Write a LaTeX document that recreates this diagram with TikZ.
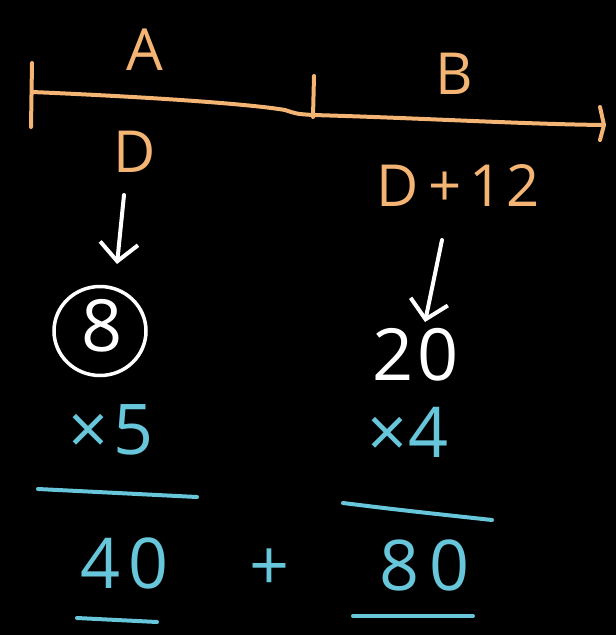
\documentclass[tikz,border=0pt]{standalone}
\usepackage{fontspec}
\setmainfont{Open Sans}
\usetikzlibrary{arrows.meta,shapes.geometric}
\definecolor{peach}{HTML}{F4B574}
\definecolor{chalkblue}{HTML}{68C6DA}
\begin{document}
\begin{tikzpicture}[x=1pt,y=-1pt,
  lbl/.style={font=\fontsize{58}{58}\selectfont, text=peach, inner sep=0pt},
  wnum/.style={font=\fontsize{72}{72}\selectfont, text=white, inner sep=0pt},
  bnum/.style={font=\fontsize{70}{70}\selectfont, text=chalkblue, inner sep=0pt},
  chalk/.style={line width=4pt, line cap=round, line join=round},
  warrow/.style={chalk, white, -{Straight Barb[length=18pt,width=38pt,line width=4pt]}},
]
\fill[black] (0,0) rectangle (616,635);
\useasboundingbox (0,0) rectangle (616,635);
% number line
\coordinate (L0) at (32,92);
\coordinate (M0) at (313,115);
\coordinate (R0) at (603,125);
\draw[chalk, peach] (L0) .. controls (150,97) and (250,104) .. (285,110) .. controls (297,114) .. (M0) .. controls (420,118) and (520,124) .. (R0);
\draw[chalk, peach] (32,63) -- (31,127);
\draw[chalk, peach] (314,76) -- (313,117);
\draw[chalk, peach] (600,107) -- (604,125) -- (600,140);
% labels
\node[lbl] (A) at (145,50) {A};
\node[lbl] (B) at (454,74) {B};
\node[lbl] (D) at (135,152) {D};
\node[lbl] (D12) at (458,185) {D\kern10pt+\kern8pt1\kern4pt2};
% white values
\node[draw=white, line width=3.5pt, ellipse, minimum width=92pt, minimum height=89pt] (ring) at (100,331) {};
\node[wnum] (eight) at (102,326) {8};
\node[wnum] (twenty) at (416,355) {2\kern4pt0};
\coordinate (a1) at (124,195);
\coordinate (a1e) at (117,264);
\coordinate (a2) at (442,240);
\coordinate (a2e) at (425,322);
\draw[warrow] (a1) -- (a1e);
\draw[warrow] (a2) -- (a2e);
% multipliers
\node[bnum] (x5) at (111,430) {×\kern4pt5};
\node[bnum] (x4) at (408,432) {×4};
\draw[chalk, chalkblue] (38,489) -- (197,497);
\draw[chalk, chalkblue] (343,503) .. controls (400,510) .. (492,520);
% results
\node[bnum] (forty) at (125,563) {4\kern8pt0};
\node[bnum] (plus) at (270,570) {+};
\node[bnum] (eighty) at (425,565) {8\kern10pt0};
\draw[chalk, chalkblue] (77,618) -- (157,622);
\draw[chalk, chalkblue] (353,616) -- (473,616);
\end{tikzpicture}
\end{document}
